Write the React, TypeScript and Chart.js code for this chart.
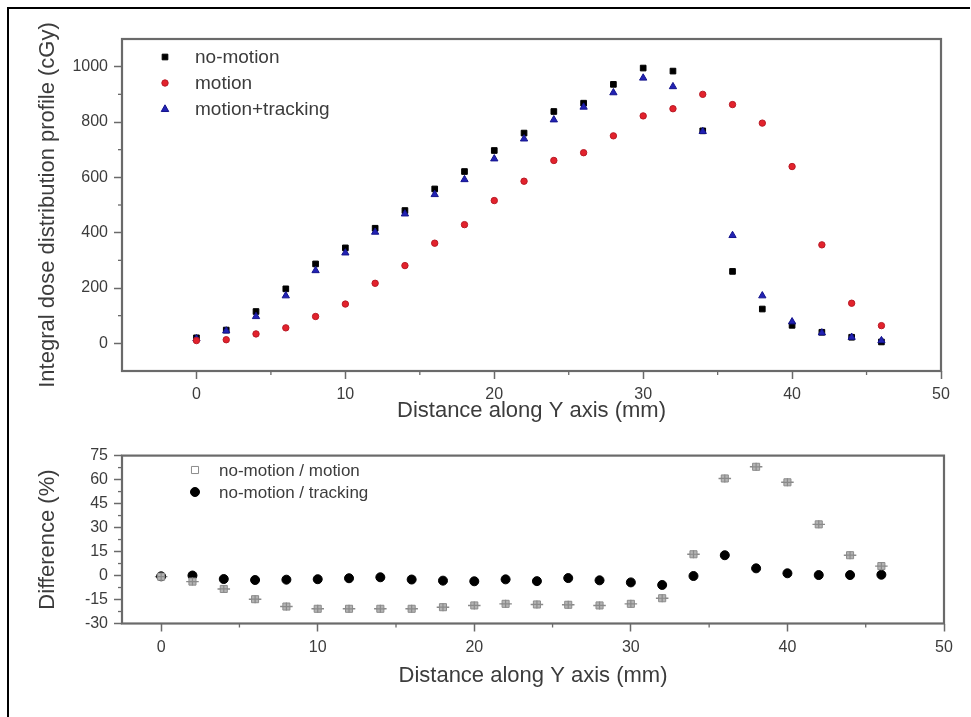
import React, { useEffect, useRef } from 'react';
import { Chart, registerables } from 'chart.js';

Chart.register(...registerables);

// ---------- data ----------
const distance = [0, 2, 4, 6, 8, 10, 12, 14, 16, 18, 20, 22, 24, 26, 28, 30, 32, 34, 36, 38, 40, 42, 44, 46];
const noMotion = [20, 48, 115, 197, 287, 345, 416, 480, 558, 621, 697, 760, 838, 868, 936, 995, 984, 768, 260, 124, 65, 40, 22, 5];
const motion = [10, 13, 34, 56, 97, 142, 217, 281, 362, 429, 516, 586, 661, 689, 750, 822, 848, 900, 863, 796, 639, 356, 145, 64];
const tracking = [17, 45, 97, 172, 263, 327, 402, 468, 538, 592, 667, 739, 808, 854, 906, 959, 928, 766, 390, 172, 78, 38, 22, 10];

const diffMotion = [-0.7, -3.8, -8.4, -14.8, -19.4, -20.8, -20.8, -20.8, -20.8, -19.8, -18.7, -17.7, -18.1, -18.3, -18.7, -17.7, -14.2, 13.3, 60.7, 68, 58.3, 32, 12.7, 5.9];
const diffMotionErrY = [2, 2, 2, 2, 2, 2, 2, 2, 2, 2, 2, 2, 2, 2, 2, 2, 2, 2, 2, 2, 2, 2, 2, 2];
const diffMotionErrX = [0.4, 0.4, 0.4, 0.4, 0.4, 0.4, 0.4, 0.4, 0.4, 0.4, 0.4, 0.4, 0.4, 0.4, 0.4, 0.4, 0.4, 0.4, 0.4, 0.4, 0.4, 0.4, 0.4, 0.4];
const diffTracking = [-0.5, 0, -2.2, -2.8, -2.6, -2.3, -1.7, -1.1, -2.5, -3.2, -3.6, -2.4, -3.5, -1.6, -3, -4.3, -5.9, -0.3, 12.7, 4.5, 1.4, 0.3, 0.3, 0.5];

const xTicks = [0, 10, 20, 30, 40, 50];
const xMinor = [5, 15, 25, 35, 45];
const topYTicks = [0, 200, 400, 600, 800, 1000];
const topYMinor = [100, 300, 500, 700, 900];
const botYTicks = [-30, -15, 0, 15, 30, 45, 60, 75];
const botYMinor = [-22.5, -7.5, 7.5, 22.5, 37.5, 52.5, 67.5];

const topLabels = ['no-motion', 'motion', 'motion+tracking'];
const botLabels = ['no-motion / motion', 'no-motion / tracking'];

// ---------- styling ----------
const FONT = "'Liberation Sans', Arial, sans-serif";
const TEXT = '#3c3c3c';
const AXIS = '#6a6a6a';

function drawMarker(ctx: CanvasRenderingContext2D, style: string, x: number, y: number, r: number, fill: string, stroke: string) {
  ctx.save();
  ctx.fillStyle = fill;
  ctx.strokeStyle = stroke;
  ctx.lineWidth = 1;
  ctx.beginPath();
  if (style === 'rect') {
    const s = r * Math.SQRT1_2;
    ctx.rect(x - s, y - s, 2 * s, 2 * s);
  } else if (style === 'triangle') {
    ctx.moveTo(x, y - r);
    ctx.lineTo(x + r * 0.9, y + r * 0.6);
    ctx.lineTo(x - r * 0.9, y + r * 0.6);
    ctx.closePath();
  } else {
    ctx.arc(x, y, r, 0, Math.PI * 2);
  }
  ctx.fill();
  ctx.stroke();
  ctx.restore();
}

const framePlugin = {
  id: 'frameBox',
  beforeDatasetsDraw(chart: any, _args: any, opts: any) {
    const { ctx, chartArea: a } = chart;
    const xs = chart.scales.x;
    const ys = chart.scales.y;
    ctx.save();
    ctx.strokeStyle = AXIS;
    ctx.lineWidth = 1.3;
    const len = 4;
    for (const v of opts.minorX || []) {
      const px = xs.getPixelForValue(v);
      ctx.beginPath();
      ctx.moveTo(px, a.bottom);
      ctx.lineTo(px, a.bottom + len);
      ctx.stroke();
    }
    for (const v of opts.minorY || []) {
      const py = ys.getPixelForValue(v);
      ctx.beginPath();
      ctx.moveTo(a.left - len, py);
      ctx.lineTo(a.left, py);
      ctx.stroke();
    }
    ctx.lineWidth = 2.2;
    ctx.strokeRect(a.left, a.top, a.right - a.left, a.bottom - a.top);
    ctx.restore();
  },
};

const errorBarPlugin = {
  id: 'errBars',
  beforeDatasetsDraw(chart: any) {
    const { ctx } = chart;
    const xs = chart.scales.x;
    const ys = chart.scales.y;
    chart.data.datasets.forEach((ds: any) => {
      if (!ds.errY) return;
      ctx.save();
      ctx.strokeStyle = '#8a8a8a';
      ctx.lineWidth = 1.4;
      ds.data.forEach((p: any, i: number) => {
        const cx = xs.getPixelForValue(p.x);
        const cy = ys.getPixelForValue(p.y);
        const y1 = ys.getPixelForValue(p.y + ds.errY[i]);
        const y2 = ys.getPixelForValue(p.y - ds.errY[i]);
        const x1 = xs.getPixelForValue(p.x - ds.errX[i]);
        const x2 = xs.getPixelForValue(p.x + ds.errX[i]);
        ctx.beginPath();
        ctx.moveTo(cx, y1);
        ctx.lineTo(cx, y2);
        ctx.moveTo(x1, cy);
        ctx.lineTo(x2, cy);
        ctx.stroke();
      });
      ctx.restore();
    });
  },
  afterDatasetsDraw(chart: any) {
    const { ctx } = chart;
    const xs = chart.scales.x;
    const ys = chart.scales.y;
    chart.data.datasets.forEach((ds: any) => {
      if (!ds.errY) return;
      ctx.save();
      ctx.strokeStyle = '#8a8a8a';
      ctx.lineWidth = 1.2;
      ds.data.forEach((p: any) => {
        const cx = xs.getPixelForValue(p.x);
        const cy = ys.getPixelForValue(p.y);
        ctx.beginPath();
        ctx.moveTo(cx, cy - 4);
        ctx.lineTo(cx, cy + 4);
        ctx.moveTo(cx - 4, cy);
        ctx.lineTo(cx + 4, cy);
        ctx.stroke();
      });
      ctx.restore();
    });
  },
};

const legendPlugin = {
  id: 'customLegend',
  afterDatasetsDraw(chart: any, _args: any, opts: any) {
    const { ctx } = chart;
    ctx.save();
    ctx.font = `${opts.fontSize}px ${FONT}`;
    ctx.textBaseline = 'middle';
    ctx.textAlign = 'left';
    opts.items.forEach((it: any, i: number) => {
      const y = opts.y + i * opts.gap;
      drawMarker(ctx, it.style, opts.markerX, y, it.r, it.fill, it.stroke);
      ctx.fillStyle = TEXT;
      ctx.fillText(it.label, opts.textX, y + 1);
    });
    ctx.restore();
  },
};

function fixedWidth(w: number) {
  return (scale: any) => {
    scale.width = w;
  };
}
function fixedHeight(h: number) {
  return (scale: any) => {
    scale.height = h;
  };
}
function setTicks(values: number[]) {
  return (scale: any) => {
    scale.ticks = values.map((v) => ({ value: v }));
  };
}
const plainLabel = (v: any) => String(v);

function axisX(min: number, height: number, titlePadBottom: number) {
  return {
    type: 'linear',
    min,
    max: 50,
    afterBuildTicks: setTicks(xTicks),
    afterFit: fixedHeight(height),
    border: { display: false },
    grid: { drawOnChartArea: false, drawTicks: true, tickLength: 8, color: AXIS, tickWidth: 1.5 },
    ticks: { color: TEXT, font: { family: FONT, size: 16 }, padding: 6, maxRotation: 0, callback: plainLabel },
    title: {
      display: true,
      text: 'Distance along Y axis (mm)',
      color: TEXT,
      font: { family: FONT, size: 22 },
      padding: { top: 0, bottom: titlePadBottom },
    },
  };
}

function axisY(min: number, max: number, ticks: number[], title: string) {
  return {
    type: 'linear',
    min,
    max,
    afterBuildTicks: setTicks(ticks),
    afterFit: fixedWidth(122),
    border: { display: false },
    grid: { drawOnChartArea: false, drawTicks: true, tickLength: 8, color: AXIS, tickWidth: 1.5 },
    ticks: { color: TEXT, font: { family: FONT, size: 16 }, padding: 6, callback: plainLabel },
    title: {
      display: true,
      text: title,
      color: TEXT,
      font: { family: FONT, size: 22 },
      padding: { top: 35, bottom: 0 },
    },
  };
}

function pts(ys: number[]) {
  return distance.map((x, i) => ({ x, y: ys[i] }));
}

export default function App() {
  const topRef = useRef<HTMLCanvasElement>(null);
  const botRef = useRef<HTMLCanvasElement>(null);

  useEffect(() => {
    const top = new Chart(topRef.current as HTMLCanvasElement, {
      type: 'scatter',
      data: {
        datasets: [
          { label: topLabels[1], data: pts(motion), pointStyle: 'circle', pointRadius: 3.2, backgroundColor: '#e3222c', borderColor: '#b81a26', borderWidth: 1 },
          { label: topLabels[2], data: pts(tracking), pointStyle: 'triangle', pointRadius: 4.2, backgroundColor: '#2222b4', borderColor: '#14148c', borderWidth: 1 },
          { label: topLabels[0], data: pts(noMotion), pointStyle: 'rect', pointRadius: 4, backgroundColor: '#000000', borderColor: '#000000', borderWidth: 1 },
        ],
      } as any,
      options: {
        responsive: false,
        animation: false,
        events: [],
        layout: { padding: { left: 0, top: 39, right: 30, bottom: 0 } },
        plugins: {
          legend: { display: false },
          tooltip: { enabled: false },
          frameBox: { minorX: xMinor, minorY: topYMinor },
          customLegend: {
            fontSize: 19,
            markerX: 165,
            textX: 195,
            y: 57,
            gap: 26,
            items: [
              { label: topLabels[0], style: 'rect', r: 4, fill: '#000', stroke: '#000' },
              { label: topLabels[1], style: 'circle', r: 3.2, fill: '#e3222c', stroke: '#b81a26' },
              { label: topLabels[2], style: 'triangle', r: 4.2, fill: '#2222b4', stroke: '#14148c' },
            ],
          },
        } as any,
        scales: {
          x: axisX(-5, 69, 16),
          y: axisY(-100, 1100, topYTicks, 'Integral dose distribution profile (cGy)'),
        } as any,
      },
      plugins: [framePlugin, legendPlugin],
    });

    const bot = new Chart(botRef.current as HTMLCanvasElement, {
      type: 'scatter',
      data: {
        datasets: [
          {
            label: botLabels[0],
            data: pts(diffMotion),
            errY: diffMotionErrY,
            errX: diffMotionErrX,
            pointStyle: 'rect',
            pointRadius: 5,
            backgroundColor: '#b4b4b4',
            borderColor: '#8c8c8c',
            borderWidth: 1,
          },
          { label: botLabels[1], data: pts(diffTracking), pointStyle: 'circle', pointRadius: 4.5, backgroundColor: '#000', borderColor: '#000', borderWidth: 1 },
        ],
      } as any,
      options: {
        responsive: false,
        animation: false,
        events: [],
        layout: { padding: { left: 0, top: 13, right: 27, bottom: 0 } },
        plugins: {
          legend: { display: false },
          tooltip: { enabled: false },
          frameBox: { minorX: xMinor, minorY: botYMinor },
          customLegend: {
            fontSize: 17,
            markerX: 195,
            textX: 219,
            y: 30,
            gap: 22,
            items: [
              { label: botLabels[0], style: 'rect', r: 5, fill: '#ffffff', stroke: '#8c8c8c' },
              { label: botLabels[1], style: 'circle', r: 4.5, fill: '#000', stroke: '#000' },
            ],
          },
        } as any,
        scales: {
          x: axisX(-2.5, 93.5, 28),
          y: axisY(-30, 75, botYTicks, 'Difference (%)'),
        } as any,
      },
      plugins: [framePlugin, errorBarPlugin, legendPlugin],
    });

    return () => {
      top.destroy();
      bot.destroy();
    };
  }, []);

  return (
    <div style={{ position: 'fixed', left: 0, top: 0, width: 971, height: 717, background: '#ffffff', overflow: 'hidden' }}>
      <canvas ref={topRef} width={971} height={440} style={{ position: 'absolute', left: 0, top: 0 }} />
      <canvas ref={botRef} width={971} height={277} style={{ position: 'absolute', left: 0, top: 440 }} />
      <div style={{ position: 'absolute', left: 7, top: 7, width: 963, height: 2, background: '#000' }} />
      <div style={{ position: 'absolute', left: 7, top: 7, width: 2, height: 710, background: '#000' }} />
    </div>
  );
}
